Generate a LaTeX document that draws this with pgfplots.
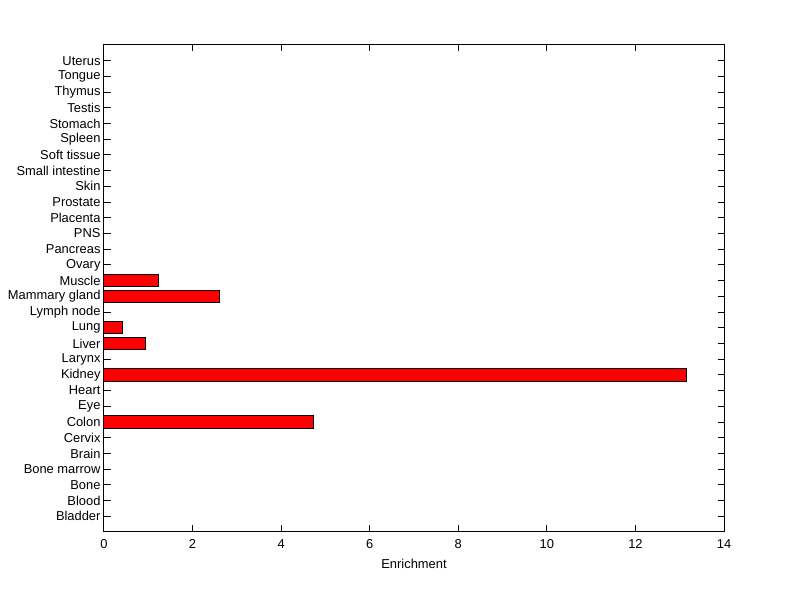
\documentclass[border=0pt]{standalone}
\usepackage{pgfplots}
\pgfplotsset{compat=1.18}
\usepackage{fontspec}
\setmainfont{Liberation Sans}
\begin{document}
\begin{tikzpicture}
\begin{axis}[
  name=ax,
  scale only axis,
  width=620pt, height=487pt,
  xmin=0, xmax=14, ymin=0, ymax=31,
  xbar, bar width=12.3pt,
  xtick={0,2,...,14},
  ytick={1,...,30},
  yticklabels={Bladder,Blood,Bone,Bone marrow,Brain,Cervix,Colon,Eye,Heart,Kidney,Larynx,Liver,Lung,Lymph node,Mammary gland,Muscle,Ovary,Pancreas,PNS,Placenta,Prostate,Skin,Small intestine,Soft tissue,Spleen,Stomach,Testis,Thymus,Tongue,Uterus},
  tick align=inside,
  xtick align=inside, ytick align=inside,
  major tick length=6.5pt,
  tick style={black, line width=1pt},
  axis line style={line width=1pt},
  /pgf/number format/assume math mode=true,
  tick label style={font=\fontsize{12.9}{14}\selectfont},
  label style={font=\fontsize{12.9}{14}\selectfont},
  xlabel={Enrichment},
  xlabel style={yshift=-4pt},
  xticklabel style={yshift=-4pt},
]
\addplot[fill=red, draw=black, line width=1pt] coordinates {
 (4.73,7) (13.16,10) (0.94,12) (0.42,13) (2.61,15) (1.23,16)
};
\end{axis}
\path[use as bounding box] ([xshift=-104pt,yshift=-67pt]ax.south west) rectangle ([xshift=76pt,yshift=45pt]ax.north east);
\end{tikzpicture}
\end{document}
